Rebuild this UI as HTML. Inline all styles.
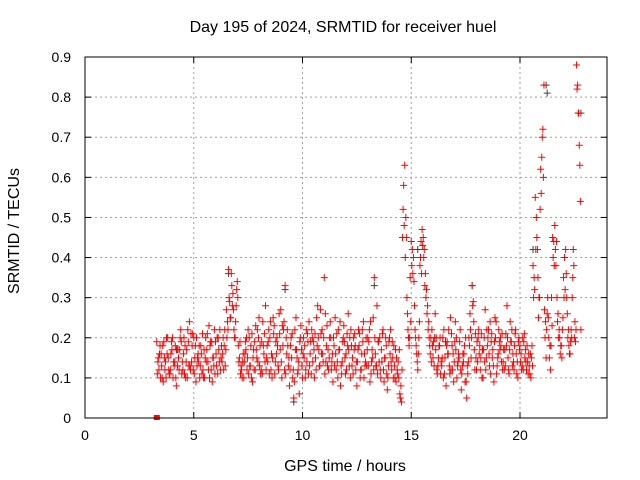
<!DOCTYPE html>
<html><head><meta charset="utf-8"><style>
body{margin:0;background:#fff;font-family:"Liberation Sans",sans-serif}
svg{display:block}
text{font-family:"Liberation Sans",sans-serif;font-size:14px;fill:#000}
.big{font-size:16px}
</style></head><body>
<svg id="chart" width="640" height="480"></svg>
<script>
const xTicks=[0,5,10,15,20];
const yTicks=[0,0.1,0.2,0.3,0.4,0.5,0.6,0.7,0.8,0.9];
const red1Start=3.3;
const red1=[.19,.12,.16,.09,.14,.2,.11,.17,.13,.08,
.15,.22,.12,.18,.1,.24,.14,.2,.09,.16,
.13,.21,.1,.17,.23,.12,.15,.19,.11,.22,
.14,.18,.27,.37,.25,.31,.2,.34,.15,.12,
.1,.17,.22,.13,.09,.19,.15,.25,.12,.18,
.28,.14,.2,.1,.23,.16,.12,.27,.18,.33,
.22,.08,.15,.05,.25,.12,.2,.1,.18,.14,
.24,.11,.19,.15,.28,.13,.22,.35,.18,.12,
.2,.09,.25,.14,.17,.11,.23,.16,.26,.1,
.15,.21,.08,.18,.12,.24,.14,.2,.09,.17,
.35,.13,.19,.1,.22,.15,.07,.2,.12,.18,
.09,.14,.05,.45,.63,.3,.18,.44,.4,.2,
.12,.38,.47,.42,.32,.24,.2,.15,.26,.11,
.18,.13,.22,.08,.16,.25,.12,.19,.1,.15,
.07,.14,.2,.11,.26,.33,.17,.12,.22,.15,
.1,.27,.18,.13,.21,.09,.24,.16,.2,.12,
.17,.28,.11,.19,.14,.22,.1,.18,.13,.21,
.12,.16,.1,.38,.55,.42,.3,.65,.83,.15,
.25,.12,.45,.48,.3,.22,.18,.35,.42,.2,
.16,.3,.2,.88,.76,.22];
const red2Start=3.35;
const red2=[.14,.18,.1,.15,.2,.12,.16,.1,.18,.13,
.17,.11,.2,.14,.19,.12,.21,.15,.13,.18,
.16,.1,.2,.14,.18,.09,.22,.13,.17,.15,
.2,.13,.24,.29,.33,.22,.28,.18,.11,.14,
.16,.12,.2,.1,.17,.23,.14,.18,.11,.21,
.15,.22,.12,.25,.14,.18,.21,.1,.24,.2,
.13,.18,.1,.22,.15,.06,.17,.2,.12,.19,
.16,.2,.1,.25,.17,.21,.14,.26,.13,.2,
.14,.18,.12,.22,.08,.19,.15,.21,.13,.18,
.2,.12,.17,.1,.22,.16,.13,.19,.11,.25,
.16,.11,.2,.14,.09,.18,.13,.22,.15,.1,
.12,.17,.04,.58,.5,.22,.35,.42,.28,.16,
.2,.44,.45,.36,.28,.18,.22,.13,.2,.15,
.11,.2,.15,.19,.13,.21,.09,.17,.14,.22,
.13,.18,.05,.2,.15,.29,.21,.14,.18,.1,
.2,.15,.22,.11,.17,.25,.13,.19,.14,.17,
.21,.15,.24,.13,.18,.11,.2,.16,.12,.17,
.14,.11,.18,.35,.5,.25,.62,.72,.2,.26,
.15,.3,.44,.38,.26,.16,.22,.4,.3,.18,
.22,.42,.19,.83,.63];
const red3Start=3.325;
const red3=[.11,.16,.13,.19,.1,.15,.12,.2,.14,.17,
.12,.19,.16,.1,.22,.13,.18,.11,.2,.14,
.18,.12,.15,.21,.1,.19,.13,.16,.2,.12,
.16,.22,.2,.3,.36,.27,.24,.3,.19,.1,
.14,.2,.11,.18,.15,.12,.22,.13,.19,.16,
.12,.19,.24,.15,.11,.2,.26,.14,.22,.11,
.18,.12,.21,.09,.17,.14,.23,.16,.1,.21,
.13,.22,.17,.12,.2,.27,.16,.11,.23,.15,
.12,.2,.16,.1,.24,.14,.19,.12,.17,.22,
.11,.18,.14,.21,.16,.1,.2,.13,.24,.15,
.2,.28,.14,.17,.12,.2,.1,.16,.19,.13,
.15,.1,.08,.52,.4,.26,.2,.38,.34,.18,
.16,.4,.43,.33,.26,.2,.14,.19,.17,.13,
.2,.15,.11,.18,.22,.12,.16,.24,.13,.19,
.11,.16,.09,.14,.22,.28,.12,.19,.16,.21,
.17,.12,.2,.24,.15,.19,.11,.22,.18,.14,
.13,.2,.17,.22,.12,.16,.19,.14,.2,.15,
.18,.13,.15,.3,.42,.35,.52,.7,.27,.22,
.2,.18,.4,.42,.24,.2,.15,.3,.36,.22,
.19,.35,.24,.82,.68];
const red4Start=3.375;
const red4=[.15,.1,.18,.12,.16,.11,.19,.14,.1,.17,
.2,.14,.11,.17,.13,.21,.12,.18,.15,.1,
.11,.17,.14,.12,.19,.15,.11,.2,.14,.18,
.12,.17,.22,.25,.28,.2,.32,.14,.13,.16,
.19,.15,.13,.21,.12,.17,.2,.11,.24,.14,
.18,.11,.16,.21,.19,.13,.17,.23,.12,.16,
.15,.2,.12,.17,.11,.19,.13,.15,.22,.11,
.19,.14,.21,.18,.13,.16,.2,.14,.17,.24,
.16,.13,.21,.17,.13,.2,.11,.18,.2,.13,
.17,.14,.22,.12,.19,.13,.17,.22,.14,.12,
.13,.19,.12,.21,.15,.11,.19,.14,.1,.17,
.11,.06,.12,.48,.45,.2,.24,.36,.22,.14,
.24,.36,.4,.3,.22,.16,.18,.2,.12,.18,
.14,.1,.19,.16,.11,.18,.14,.2,.16,.12,
.16,.09,.13,.18,.2,.24,.15,.2,.12,.17,
.14,.22,.16,.19,.13,.2,.15,.17,.21,.12,
.18,.12,.19,.16,.21,.14,.17,.12,.19,.14,
.11,.16,.13,.32,.45,.3,.56,.6,.24,.3,
.18,.23,.38,.44,.2,.18,.25,.32,.26,.16,
.2,.38,.22,.76,.54];
const grayT=[4.2,6.6,9.2,9.6,13.3,15.3,17.8,20.6,21.2,21.25,22.8];
const grayV=[.17,.36,.32,.04,.33,.42,.33,.42,.83,.81,.76];
const step=0.1;

const L=85,R=607,T=57,B=418;
const xs=h=>L+(h/24)*(R-L);
const ys=v=>B-(v/0.9)*(B-T);
const NS="http://www.w3.org/2000/svg";
const svg=document.getElementById('chart');
function mk(tag,a,p){const e=document.createElementNS(NS,tag);for(const k in a)e.setAttribute(k,a[k]);(p||svg).appendChild(e);return e;}

const grid=mk('g',{});


xTicks.forEach(t=>{if(t>0)mk('line',{x1:xs(t),x2:xs(t),y1:T,y2:B,stroke:'#a0a0a0','stroke-dasharray':'2,3','stroke-width':1},grid);});
yTicks.forEach(t=>{if(t>0&&t<0.9)mk('line',{x1:L,x2:R,y1:ys(t),y2:ys(t),stroke:'#a0a0a0','stroke-dasharray':'2,3','stroke-width':1},grid);});

const xa=mk('g',{});


xTicks.forEach(t=>{const x=xs(t);mk('line',{x1:x,x2:x,y1:B,y2:B-6,stroke:'#000'},xa);mk('line',{x1:x,x2:x,y1:T,y2:T+6,stroke:'#000'},xa);
const tx=mk('text',{x:x,y:B+22,'text-anchor':'middle'},xa);tx.textContent=t;

});
const ya=mk('g',{});


yTicks.forEach(t=>{const y=ys(t);mk('line',{x1:L,x2:L+6,y1:y,y2:y,stroke:'#000'},ya);mk('line',{x1:R,x2:R-6,y1:y,y2:y,stroke:'#000'},ya);
const tx=mk('text',{x:L-14,y:y+5,'text-anchor':'end'},ya);tx.textContent=t===0?'0':t.toFixed(1);

});

function plus(x,y,c,g){mk('path',{d:`M${x-3.5} ${y}H${x+3.5}M${x} ${y-3.5}V${y+3.5}`,stroke:c,'stroke-width':1,fill:'none'},g);}
const gs=mk('g',{});


grayT.forEach((t,i)=>plus(xs(t),ys(grayV[i]),'#404040',gs));
const rs=mk('g',{});


[[red1,red1Start],[red2,red2Start],[red3,red3Start],[red4,red4Start]].forEach(([arr,st])=>{
  arr.forEach((v,i)=>plus(xs(st+i*step),ys(v),'#ff0000',rs));
});
const sq=mk('rect',{x:xs(3.3)-3,y:B-3,width:6,height:5,fill:'#ff0000'});



const fr=mk('rect',{x:L,y:T,width:R-L,height:B-T,fill:'none',stroke:'#000','stroke-width':1});



const ti=mk('text',{x:343,y:32,'text-anchor':'middle',class:'big'});ti.textContent='Day 195 of 2024, SRMTID for receiver huel';


const xl=mk('text',{x:345,y:471,'text-anchor':'middle',class:'big'});xl.textContent='GPS time / hours';


const yl=mk('text',{x:0,y:0,'text-anchor':'middle',class:'big',transform:'translate(19,231) rotate(-90)'});yl.textContent='SRMTID / TECUs';


</script>
</body></html>
